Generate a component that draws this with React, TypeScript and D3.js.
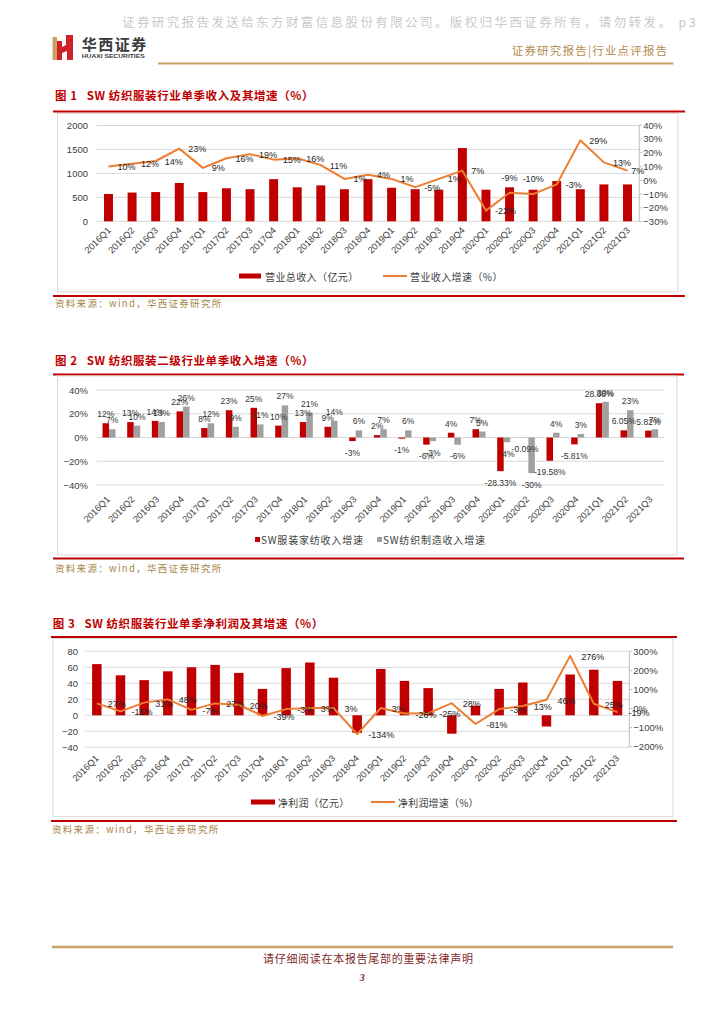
import React from "react";
import * as d3 from "d3";

const categories = ["2016Q1","2016Q2","2016Q3","2016Q4","2017Q1","2017Q2","2017Q3","2017Q4","2018Q1","2018Q2","2018Q3","2018Q4","2019Q1","2019Q2","2019Q3","2019Q4","2020Q1","2020Q2","2020Q3","2020Q4","2021Q1","2021Q2","2021Q3"];

// Figure 1: revenue (100m CNY) and growth (%)
const revenue = [570,600,610,800,610,690,670,880,710,750,670,880,700,670,660,1530,660,710,660,840,670,770,770];
const revenueGrowth = [10,12,14,23,9,16,19,15,16,11,1,4,1,-5,1,7,-22,-9,-10,-3,29,13,7];
const revenueTicks = [0,500,1000,1500,2000];
const revenueGrowthTicks = [-30,-20,-10,0,10,20,30,40];
const revenueGrowthLabelAbove = [17,18];

// Figure 2: sub-industry revenue growth (%)
const apparelGrowth = [12,13,14,22,8,23,25,10,13,9,-3,2,-1,-6,4,7,-28.33,-0.09,-19.58,-5.81,28.88,6.05,5.82];
const textileGrowth = [7,10,13,26,12,9,11,27,21,14,6,7,6,-3,-6,5,-4,-30,4,3,30,23,7];
const subTicks = [-40,-20,0,20,40];

// Figure 3: net profit (100m CNY) and growth (%)
const profit = [64,50,44,55,60,63,53,33,59,66,47,-22,58,43,34,-23,12,33,41,-14,51,57,43];
const profitGrowth = [27,-15,31,48,-7,27,20,-39,-3,3,3,-134,3,-26,-25,28,-81,-3,13,46,276,25,-19];
const profitTicks = [-40,-20,0,20,40,60,80];
const profitGrowthTicks = [-200,-100,0,100,200,300];

const RED = "#c00000";
const ORANGE = "#ed7d31";
const GREY = "#a0a0a0";
const GRID = "#d9d9d9";
const AXIS = "#bfbfbf";
const TXT = "#404040";
const GOLD = "#c9a063";
const SANS = "'Liberation Sans', Arial, sans-serif";
const CJK = "'Noto Sans CJK SC', 'Noto Sans CJK JP', sans-serif";
const NB = "\u00a0";

const pct = (v: number) => `${v}%`;
const pctLabel = (v: number) => (Number.isInteger(v) ? `${v}%` : `${v.toFixed(2)}%`);
const axisPct = (v: number) => `${v < 0 ? "\u2212" : ""}${Math.abs(v)}%`;
const axisNum = (v: number) => `${v < 0 ? "\u2212" : ""}${Math.abs(v)}`;

function Frame(p: { num: string; title: string; tx: number; ty: number; lx0: number; lx1: number; lineTop: number; lineBottom: number; bx0: number; bx1: number; by0: number; by1: number; sx: number; sy: number; }) {
  return (
    <g>
      <text x={p.tx} y={p.ty} fontFamily={CJK} fontWeight="bold" fontSize={11.5} letterSpacing={0.6} fill={RED} dominantBaseline="central">
        <tspan>{`图${NB}${p.num}`}</tspan>
        <tspan dx={9}>{`SW${NB}${p.title}`}</tspan>
      </text>
      <line x1={p.lx0} x2={p.lx1} y1={p.lineTop} y2={p.lineTop} stroke={RED} strokeWidth={2} />
      <rect x={p.bx0} y={p.by0} width={p.bx1 - p.bx0} height={p.by1 - p.by0} fill="#fff" stroke={GRID} strokeWidth={1} />
      <line x1={p.lx0} x2={p.lx1} y1={p.lineBottom} y2={p.lineBottom} stroke={RED} strokeWidth={2} />
      <text x={p.sx} y={p.sy} fontFamily={CJK} fontSize={9.5} letterSpacing={1.3} fill="#a8864a" dominantBaseline="central">资料来源：wind，华西证券研究所</text>
    </g>
  );
}

function CatLabels({ cx, y, dx }: { cx: (c: string) => number; y: number; dx: number }) {
  return (
    <g>
      {categories.map((c) => (
        <text key={c} transform={`translate(${cx(c) + dx},${y}) rotate(-45)`} textAnchor="end" fontFamily={SANS} fontSize={9.2} fill={TXT}>{c}</text>
      ))}
    </g>
  );
}

function Chart1() {
  const x = d3.scaleBand<string>().domain(categories).range([96.7, 639.3]).paddingInner(0.62).paddingOuter(0.31);
  const cx = (c: string) => (x(c) as number) + x.bandwidth() / 2;
  const yL = d3.scaleLinear().domain([0, 2000]).range([221.3, 125.5]);
  const yR = d3.scaleLinear().domain([-30, 40]).range([221.6, 125.2]);
  const line = d3.line<number>().x((_, i) => cx(categories[i])).y((d) => yR(d));
  const axisX = 639.3;
  return (
    <g>
      <Frame num="1" title="纺织服装行业单季收入及其增速（%）" tx={55} ty={95} lx0={53} lx1={685} lineTop={111.5} lineBottom={296} bx0={57.5} bx1={678} by0={113.5} by1={292} sx={55} sy={303} />
      {revenueTicks.map((t) => (
        <g key={t}>
          <line x1={96.7} x2={axisX} y1={yL(t)} y2={yL(t)} stroke={GRID} />
          <text x={88} y={yL(t)} textAnchor="end" dominantBaseline="central" fontFamily={SANS} fontSize={9.5} fill={TXT}>{axisNum(t)}</text>
        </g>
      ))}
      <line x1={axisX} x2={axisX} y1={yR(40)} y2={yR(-30)} stroke={AXIS} />
      {revenueGrowthTicks.map((t) => (
        <g key={t}>
          <line x1={axisX} x2={axisX + 3} y1={yR(t)} y2={yR(t)} stroke={AXIS} />
          <text x={axisX + 4} y={yR(t)} dominantBaseline="central" fontFamily={SANS} fontSize={9.5} fill={TXT}>{axisPct(t)}</text>
        </g>
      ))}
      {revenue.map((v, i) => (
        <rect key={i} x={x(categories[i])} y={yL(v)} width={x.bandwidth()} height={yL(0) - yL(v)} fill={RED} />
      ))}
      <path d={line(revenueGrowth) || ""} fill="none" stroke={ORANGE} strokeWidth={2} strokeLinejoin="round" />
      {revenueGrowth.map((v, i) => {
        const px = cx(categories[i]);
        const py = yR(v);
        const s = pct(v);
        if (revenueGrowthLabelAbove.includes(i)) {
          return <text key={i} x={px} y={py - 15} textAnchor="middle" dominantBaseline="central" fontFamily={SANS} fontSize={9} fill="#262626">{s}</text>;
        }
        const w = s.length * 5;
        let lx = px + 9;
        if (lx + w > axisX + 2) lx = axisX + 2 - w;
        return <text key={i} x={lx} y={py + 0.5} dominantBaseline="central" fontFamily={SANS} fontSize={9} fill="#262626">{s}</text>;
      })}
      <CatLabels cx={cx} y={231} dx={3} />
      <rect x={239} y={273.5} width={22} height={5} fill={RED} />
      <text x={265} y={276} dominantBaseline="central" fontFamily={CJK} fontSize={10} letterSpacing={0.4} fill={TXT}>营业总收入（亿元）</text>
      <line x1={383} x2={407} y1={276} y2={276} stroke={ORANGE} strokeWidth={2} />
      <text x={410} y={276} dominantBaseline="central" fontFamily={CJK} fontSize={10} letterSpacing={0.4} fill={TXT}>营业收入增速（%）</text>
    </g>
  );
}

function Chart2() {
  const x = d3.scaleBand<string>().domain(categories).range([96.7, 664]).paddingInner(0.473).paddingOuter(0.2365);
  const sub = d3.scaleBand<string>().domain(["apparel", "textile"]).range([0, x.bandwidth()]);
  const y = d3.scaleLinear().domain([-40, 40]).range([485, 390]);
  const cx = (c: string) => (x(c) as number) + x.bandwidth() / 2;
  const series = [
    { key: "apparel", values: apparelGrowth, color: RED },
    { key: "textile", values: textileGrowth, color: GREY },
  ];
  return (
    <g>
      <Frame num="2" title="纺织服装二级行业单季收入增速（%）" tx={55} ty={360} lx0={53} lx1={684} lineTop={374.5} lineBottom={558.5} bx0={57.5} bx1={677} by0={376} by1={555} sx={55} sy={567.5} />
      {subTicks.map((t) => (
        <g key={t}>
          <line x1={96.7} x2={664} y1={y(t)} y2={y(t)} stroke={GRID} />
          <text x={88} y={y(t)} textAnchor="end" dominantBaseline="central" fontFamily={SANS} fontSize={9.5} fill={TXT}>{axisPct(t)}</text>
        </g>
      ))}
      {series.map((s) => (
        <g key={s.key}>
          {s.values.map((v, i) => {
            const bx = (x(categories[i]) as number) + (sub(s.key) as number);
            return <rect key={i} x={bx} y={y(Math.max(0, v))} width={sub.bandwidth()} height={Math.abs(y(v) - y(0))} fill={s.color} />;
          })}
        </g>
      ))}
      {series.map((s) => (
        <g key={s.key + "l"}>
          {s.values.map((v, i) => {
            const bx = (x(categories[i]) as number) + (sub(s.key) as number) + sub.bandwidth() / 2;
            const ly = v >= 0 ? y(v) - 9 : y(v) + 11.5;
            return <text key={i} x={bx} y={ly} textAnchor="middle" dominantBaseline="central" fontFamily={SANS} fontSize={8.5} fill="#333">{pctLabel(v)}</text>;
          })}
        </g>
      ))}
      <CatLabels cx={cx} y={500} dx={1.5} />
      <rect x={255} y={537} width={5} height={5} fill={RED} />
      <text x={261} y={539.5} dominantBaseline="central" fontFamily={CJK} fontSize={10} letterSpacing={0.8} fill={TXT}>SW服装家纺收入增速</text>
      <rect x={377} y={537} width={5} height={5} fill={GREY} />
      <text x={383} y={539.5} dominantBaseline="central" fontFamily={CJK} fontSize={10} letterSpacing={0.8} fill={TXT}>SW纺织制造收入增速</text>
    </g>
  );
}

function Chart3() {
  const x = d3.scaleBand<string>().domain(categories).range([85, 629.3]).paddingInner(0.6).paddingOuter(0.3);
  const cx = (c: string) => (x(c) as number) + x.bandwidth() / 2;
  const yL = d3.scaleLinear().domain([-40, 80]).range([747.3, 651.3]);
  const yR = d3.scaleLinear().domain([-200, 300]).range([746.7, 651.3]);
  const line = d3.line<number>().x((_, i) => cx(categories[i])).y((d) => yR(d));
  const axisX = 629.3;
  return (
    <g>
      <Frame num="3" title="纺织服装行业单季净利润及其增速（%）" tx={52.7} ty={622.7} lx0={51} lx1={677} lineTop={637} lineBottom={821} bx0={53} bx1={673} by0={638.5} by1={816.7} sx={52} sy={829.3} />
      {profitTicks.map((t) => (
        <g key={t}>
          <line x1={85} x2={axisX} y1={yL(t)} y2={yL(t)} stroke={GRID} />
          <text x={78} y={yL(t)} textAnchor="end" dominantBaseline="central" fontFamily={SANS} fontSize={9.5} fill={TXT}>{axisNum(t)}</text>
        </g>
      ))}
      <line x1={axisX} x2={axisX} y1={yR(300)} y2={yR(-200)} stroke={AXIS} />
      {profitGrowthTicks.map((t) => (
        <g key={t}>
          <line x1={axisX} x2={axisX + 3} y1={yR(t)} y2={yR(t)} stroke={AXIS} />
          <text x={axisX + 4} y={yR(t)} dominantBaseline="central" fontFamily={SANS} fontSize={9.5} fill={TXT}>{axisPct(t)}</text>
        </g>
      ))}
      {profit.map((v, i) => (
        <rect key={i} x={x(categories[i])} y={yL(Math.max(0, v))} width={x.bandwidth()} height={Math.abs(yL(v) - yL(0))} fill={RED} />
      ))}
      <path d={line(profitGrowth) || ""} fill="none" stroke={ORANGE} strokeWidth={2} strokeLinejoin="round" />
      {profitGrowth.map((v, i) => (
        <text key={i} x={cx(categories[i]) + 11} y={yR(v) + 1} dominantBaseline="central" fontFamily={SANS} fontSize={9} fill="#262626">{pct(v)}</text>
      ))}
      <CatLabels cx={cx} y={759} dx={2.5} />
      <rect x={251} y={799.5} width={24} height={5} fill={RED} />
      <text x={278} y={802} dominantBaseline="central" fontFamily={CJK} fontSize={10} letterSpacing={0.2} fill={TXT}>净利润（亿元）</text>
      <line x1={371} x2={395} y1={802} y2={802} stroke={ORANGE} strokeWidth={2} />
      <text x={398} y={802} dominantBaseline="central" fontFamily={CJK} fontSize={10} letterSpacing={0.2} fill={TXT}>净利润增速（%）</text>
    </g>
  );
}

function Header() {
  return (
    <g>
      <text x={122} y={21} fontFamily={CJK} fontSize={12.5} letterSpacing={2.4} fill="#cacaca" dominantBaseline="central">{`证券研究报告发送给东方财富信息股份有限公司。版权归华西证券所有，请勿转发。${NB}p3`}</text>
      <rect x={52.5} y={37} width={4.5} height={23} fill="#c9a063" />
      <polygon points="57,41 62,41 62,47 66,45 66,35 73,35 73,60 67,60 67,51 62,53 62,60 57,60" fill="#d0202a" />
      <text x={81.7} y={43.5} fontFamily={CJK} fontWeight="bold" fontSize={15} letterSpacing={1.5} fill="#3a3a3a" dominantBaseline="central">华西证券</text>
      <text x={81.7} y={55.5} fontFamily={SANS} fontWeight="bold" fontSize={6} textLength={63} lengthAdjust="spacingAndGlyphs" fill="#3a3a3a" dominantBaseline="central">HUAXI SECURITIES</text>
      <text x={511.7} y={50} fontFamily={CJK} fontSize={11.5} letterSpacing={1.2} fill="#b38a4f" dominantBaseline="central">证券研究报告|行业点评报告</text>
      <line x1={158} x2={673.3} y1={63.5} y2={63.5} stroke={GOLD} strokeWidth={2} />
    </g>
  );
}

function Footer() {
  return (
    <g>
      <line x1={52} x2={673} y1={947} y2={947} stroke={GOLD} strokeWidth={2.5} />
      <text x={368.3} y={958.3} textAnchor="middle" dominantBaseline="central" fontFamily={CJK} fontSize={11} letterSpacing={0.7} fill="#7f2a2a">请仔细阅读在本报告尾部的重要法律声明</text>
      <text x={362.3} y={977} textAnchor="middle" dominantBaseline="central" fontFamily="'Liberation Serif', serif" fontWeight="bold" fontStyle="italic" fontSize={10} fill="#7f2a2a">3</text>
    </g>
  );
}

export default function App() {
  return (
    <svg width={724} height={1024} viewBox="0 0 724 1024" style={{ position: "absolute", left: 0, top: 0, background: "#fff" }}>
      <rect width={724} height={1024} fill="#fff" />
      <Header />
      <Chart1 />
      <Chart2 />
      <Chart3 />
      <Footer />
    </svg>
  );
}
